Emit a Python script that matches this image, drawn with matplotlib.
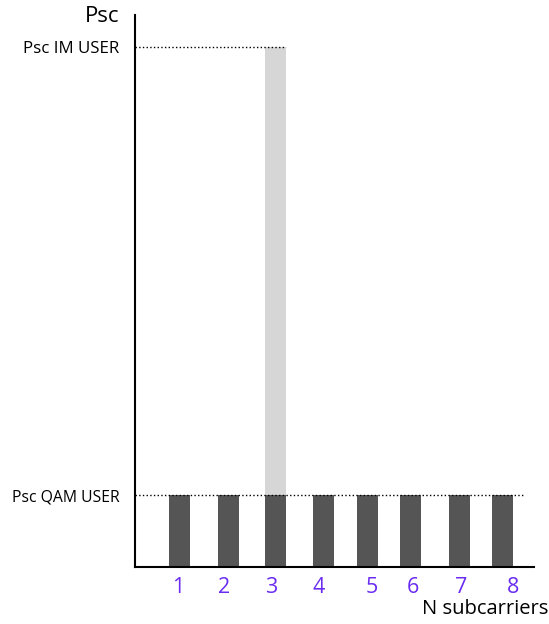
import matplotlib.pyplot as plt

plt.rcParams['font.family'] = ['Open Sans', 'DejaVu Sans']

# subcarrier data (x in drawing units, power normalised to QAM level)
subcarriers = ['1', '2', '3', '4', '5', '6', '7', '8']
bar_x = [44.5, 93.5, 140.5, 188.5, 232.5, 275.5, 324.5, 367.5]
label_x = [43, 89, 136, 184, 237, 278, 326, 378]
qam_power = [1, 1, 1, 1, 1, 1, 1, 1]
im_user = 2          # index of the subcarrier carrying the IM user
psc_qam = 1.0
psc_im = 7.222

fig = plt.figure(figsize=(5.49, 6.24), dpi=100)
W, H = 549, 624
ax = fig.add_axes([135 / W, (H - 567) / H, (534 - 135) / W, (567 - 15) / H])

ax.bar(bar_x, qam_power, width=21, color='#555555', zorder=2)
ax.bar(bar_x[im_user], psc_im - psc_qam, bottom=psc_qam, width=21,
       color='#d6d6d6', zorder=2)

ax.hlines(psc_im, 0, 151, colors='black', linestyles=':', lw=1, zorder=3)
ax.hlines(psc_qam, 0, 388, colors='black', linestyles=':', lw=1, zorder=3)

ax.set_xlim(0, 399)
ax.set_ylim(0, 7.667)
for s in ['top', 'right']:
    ax.spines[s].set_visible(False)
for s in ['left', 'bottom']:
    ax.spines[s].set_linewidth(1.5)

ax.set_xticks(label_x, subcarriers, fontsize=15.5, color='#6a2cf0')
ax.tick_params(axis='x', length=0, pad=7)
ax.set_yticks([psc_qam, psc_im], ['Psc QAM USER', 'Psc IM USER'])
ax.tick_params(axis='y', length=0, pad=11)
ax.get_yticklabels()[0].set_fontsize(11.3)
ax.get_yticklabels()[1].set_fontsize(12.2)

fig.text(119 / W, 1 - 16 / H, 'Psc', fontsize=16, ha='right', va='center')
fig.text(548 / W, 1 - 609 / H, 'N subcarriers', fontsize=14.5, ha='right', va='center')

fig.savefig('out.png', dpi=100)
